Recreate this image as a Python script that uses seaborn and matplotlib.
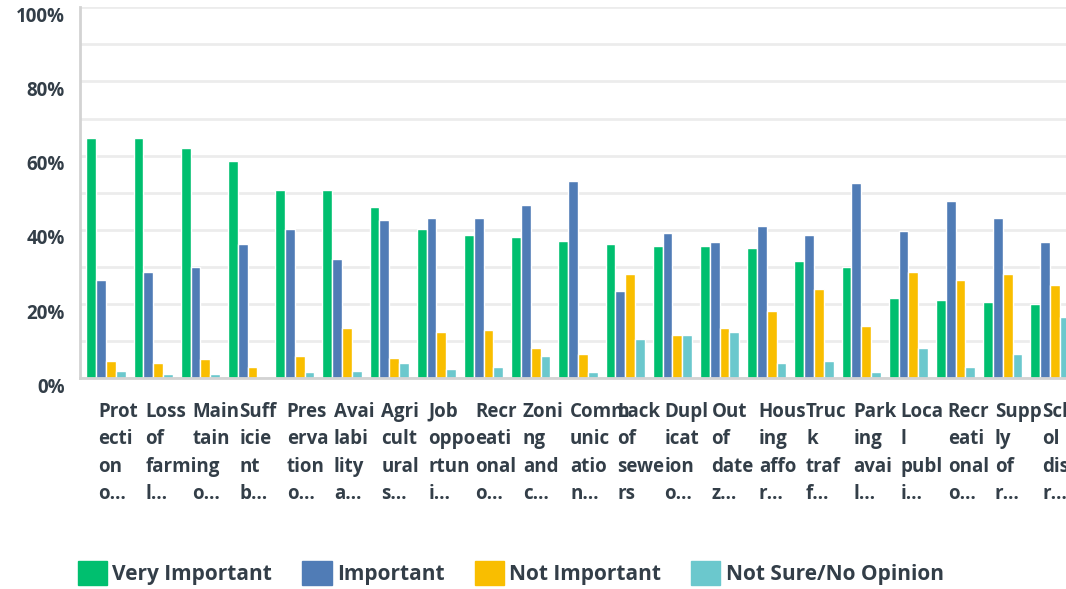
import matplotlib
matplotlib.use('Agg')
import matplotlib.pyplot as plt
import matplotlib.transforms as mtransforms
from matplotlib.patches import Patch
from matplotlib.ticker import MultipleLocator, FuncFormatter
import seaborn as sns
import pandas as pd

# Survey items (wrapped the way the original chart shows them)
tick_labels = [
    'Prot\necti\non\no…', 'Loss\nof\nfarming\nl…', 'Main\ntain\n\no…',
    'Suff\nicie\nnt\nb…', 'Pres\nerva\ntion\no…', 'Avai\nlabi\nlity\na…',
    'Agri\ncult\nural\ns…', 'Job\noppo\nrtun\ni…', 'Recr\neati\nonal\no…',
    'Zoni\nng\nand\nc…', 'Comm\nunic\natio\nn…', 'Lack\nof\nsewe\nrs',
    'Dupl\nicat\nion\no…', 'Out\nof\ndate\nz…', 'Hous\ning\naffo\nr…',
    'Truc\nk\ntraf\nf…', 'Park\ning\navai\nl…', 'Loca\nl\npubl\ni…',
    'Recr\neati\nonal\no…', 'Supp\nly\nof\nr…', 'Scho\nol\ndist\nr…',
]

series = ['Very Important', 'Important', 'Not Important', 'Not Sure/No Opinion']

# percentages
very_important = [64.8, 64.8, 62.1, 58.6, 50.8, 50.8, 46.2, 40.3, 38.6, 38.1, 37.0,
                  36.2, 35.7, 35.7, 35.1, 31.6, 30.0, 21.7, 21.1, 20.6, 20.0]
important = [26.5, 28.7, 30.0, 36.2, 40.3, 32.2, 42.7, 43.2, 43.2, 46.7, 53.2,
             23.5, 39.2, 36.7, 41.1, 38.6, 52.7, 39.7, 47.8, 43.2, 36.7]
not_important = [4.7, 4.1, 5.2, 3.0, 6.0, 13.6, 5.5, 12.4, 13.1, 8.2, 6.6,
                 28.1, 11.7, 13.6, 18.1, 24.1, 14.1, 28.7, 26.5, 28.1, 25.1]
not_sure = [2.0, 1.2, 1.2, 0.2, 1.7, 2.0, 4.1, 2.5, 3.0, 6.0, 1.7,
            10.6, 11.7, 12.5, 4.1, 4.7, 1.7, 8.2, 3.0, 6.6, 16.5]

colors = ['#00BF6F', '#507CB6', '#F9BE00', '#6BC8CD']
text_color = '#333E48'

# long format for seaborn
rows = []
for name, vals in zip(series, [very_important, important, not_important, not_sure]):
    for i, v in enumerate(vals):
        rows.append({'item': i, 'answer': name, 'pct': v})
df = pd.DataFrame(rows)

sns.set_style('white')
plt.rcParams['font.family'] = ['Open Sans', 'DejaVu Sans']

fig = plt.figure(figsize=(10.66, 5.89), dpi=100)
ax = fig.add_axes([80 / 1066, (589 - 378.3) / 589, 996 / 1066, 371 / 589])

sns.barplot(data=df, x='item', y='pct', hue='answer', hue_order=series,
            order=list(range(len(tick_labels))), palette=colors, saturation=1,
            width=0.83, gap=0, ax=ax, legend=False, errorbar=None)

ax.set_ylim(0, 100)
ax.set_xlim(-0.55, len(tick_labels) - 0.45)
ax.yaxis.set_major_locator(MultipleLocator(20))
ax.yaxis.set_minor_locator(MultipleLocator(10))
ax.yaxis.set_major_formatter(FuncFormatter(lambda v, pos: f'{int(v)}%'))
ax.grid(axis='y', which='both', color='#ECECEC', linewidth=2)
ax.set_axisbelow(True)
ax.set_xlabel('')
ax.set_ylabel('')

for side in ['top', 'right']:
    ax.spines[side].set_visible(False)
for side in ['left', 'bottom']:
    ax.spines[side].set_color('#D3D3D3')
    ax.spines[side].set_linewidth(2)

ax.tick_params(axis='both', which='both', length=0)
ax.tick_params(axis='y', pad=11, labelsize=13.5, labelcolor=text_color)
ax.tick_params(axis='x', pad=17, labelsize=13.5, labelcolor=text_color)

for lab in ax.get_yticklabels():
    lab.set_fontweight('bold')
    lab.set_transform(lab.get_transform() +
                      mtransforms.ScaledTranslation(0, -7 / 100, fig.dpi_scale_trans))

ax.set_xticks(range(len(tick_labels)))
ax.set_xticklabels(tick_labels, fontweight='bold', ha='left', va='top',
                   multialignment='left', linespacing=1.5)
for lab in ax.get_xticklabels():
    lab.set_transform(lab.get_transform() +
                      mtransforms.ScaledTranslation(-8 / 100, 0, fig.dpi_scale_trans))

handles = [Patch(facecolor=c, edgecolor=c) for c in colors]
fig.legend(handles, series, loc='center left', bbox_to_anchor=(78 / 1066, 16 / 589),
           ncol=4, frameon=False, borderpad=0, borderaxespad=0,
           handlelength=1.4, handleheight=1.4, handletextpad=0.25, columnspacing=1.45,
           prop={'size': 15, 'weight': 'bold'}, labelcolor=text_color)

fig.savefig('out.png', dpi=100)
